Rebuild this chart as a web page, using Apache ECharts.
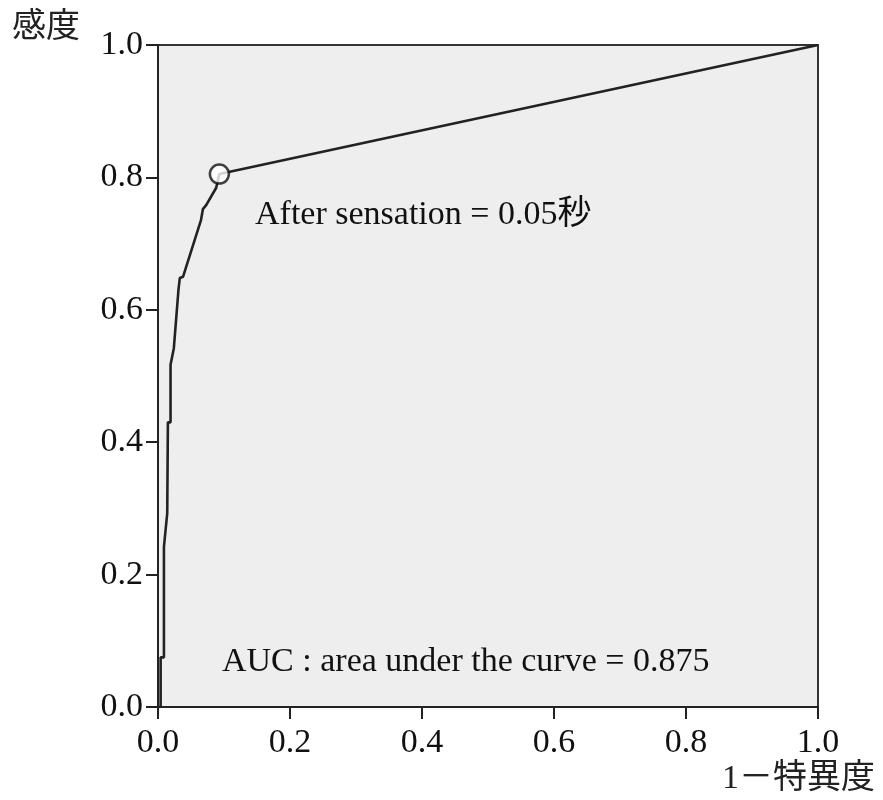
<!DOCTYPE html>
<html>
<head>
<meta charset="utf-8">
<script src="https://cdn.jsdelivr.net/npm/echarts@6/dist/echarts.min.js"></script>
<style>html,body{margin:0;padding:0;background:#fff;}#c{width:883px;height:800px;}</style>
</head>
<body>
<div id="c"></div>
<script>
// ROC curve points: [1 - specificity, sensitivity]
const rocX = [0, 0.004, 0.004, 0.009, 0.009, 0.014, 0.015, 0.019, 0.019, 0.024, 0.027, 0.031, 0.033, 0.038, 0.065, 0.068, 0.073, 0.088, 0.090, 0.093, 1.0];
const rocY = [0, 0, 0.075, 0.075, 0.242, 0.293, 0.430, 0.430, 0.517, 0.542, 0.580, 0.630, 0.648, 0.650, 0.735, 0.752, 0.758, 0.784, 0.792, 0.805, 1.0];
const cutoffX = [0.093];
const cutoffY = [0.805];
const tickLabels = ['0.0', '0.2', '0.4', '0.6', '0.8', '1.0'];
const yName = '感度';
const xName = '1－特異度';
const cutoffText = 'After sensation = 0.05秒';
const aucText = 'AUC : area under the curve = 0.875';

const FONT = '"Liberation Serif", "Times New Roman", "Noto Sans CJK JP", serif';
const chart = echarts.init(document.getElementById('c'), null, {renderer: 'canvas'});
const lbl = v => tickLabels[Math.round(v / 0.2)] ?? v.toFixed(1);

chart.setOption({
  animation: false,
  backgroundColor: '#ffffff',
  grid: {
    left: 158, top: 45, width: 660, height: 662,
    show: true, backgroundColor: '#eeeeee', borderColor: '#333333', borderWidth: 2
  },
  xAxis: {
    type: 'value', min: 0, max: 1, interval: 0.2,
    axisLine: {show: true, onZero: false, lineStyle: {color: '#222', width: 2}},
    axisTick: {show: true, length: 12, lineStyle: {color: '#222', width: 2}},
    splitLine: {show: false},
    axisLabel: {formatter: lbl, color: '#111', fontFamily: FONT, fontSize: 34, margin: 19}
  },
  yAxis: {
    type: 'value', min: 0, max: 1, interval: 0.2,
    axisLine: {show: true, onZero: false, lineStyle: {color: '#222', width: 2}},
    axisTick: {show: true, length: 12, lineStyle: {color: '#222', width: 2}},
    splitLine: {show: false},
    axisLabel: {formatter: lbl, color: '#111', fontFamily: FONT, fontSize: 34, margin: 15}
  },
  series: [
    {
      type: 'line',
      data: rocX.map((x, i) => [x, rocY[i]]),
      showSymbol: false,
      symbol: 'none',
      lineStyle: {color: '#222222', width: 2.6},
      z: 3
    },
    {
      type: 'scatter',
      data: cutoffX.map((x, i) => [x, cutoffY[i]]),
      symbol: 'circle',
      symbolSize: 19,
      itemStyle: {color: '#ffffff', borderColor: '#111111', borderWidth: 2.5},
      z: 4
    }
  ],
  graphic: [
    {type: 'text', left: 12, top: 11, style: {text: yName, font: '34px ' + FONT, fill: '#222'}},
    {type: 'text', left: 722, top: 762, style: {text: xName, font: '34px ' + FONT, fill: '#222'}},
    {type: 'text', left: 255, top: 198, style: {text: cutoffText, font: '34px ' + FONT, fill: '#111'}},
    {type: 'text', left: 222, top: 645, style: {text: aucText, font: '34px ' + FONT, fill: '#111'}}
  ]
});
</script>
</body>
</html>
